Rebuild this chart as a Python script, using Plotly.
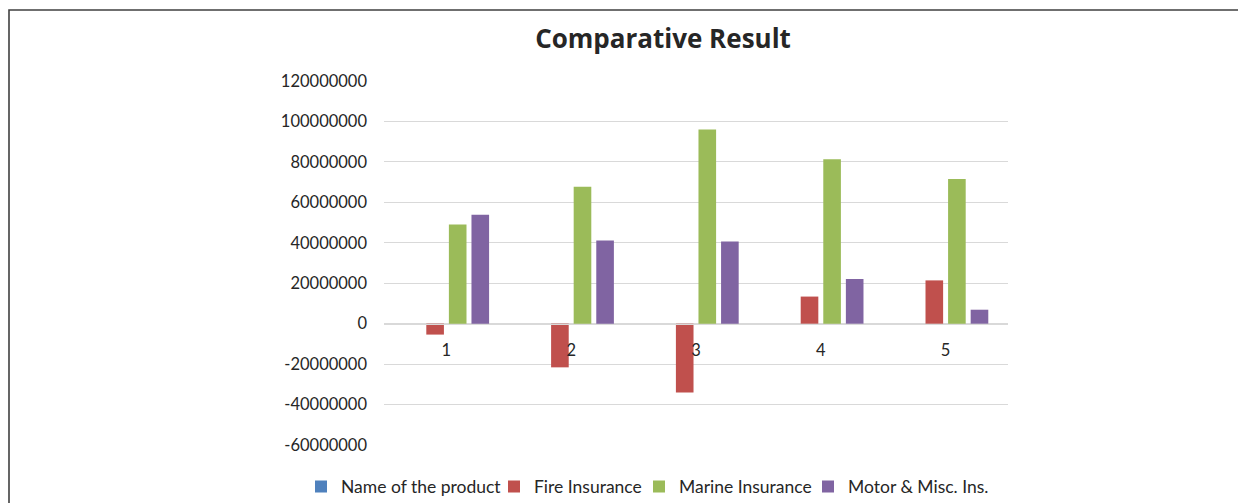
import plotly.graph_objects as go

categories = ["1", "2", "3", "4", "5"]
series_names = ["Name of the product", "Fire Insurance", "Marine Insurance", "Motor & Misc. Ins."]
name_of_product = [0, 0, 0, 0, 0]
fire_insurance = [-5400000, -21600000, -34000000, 13400000, 21400000]
marine_insurance = [49000000, 67700000, 96000000, 81300000, 71600000]
motor_misc = [53800000, 41100000, 40600000, 22100000, 6900000]
y_ticks = [-60000000, -40000000, -20000000, 0, 20000000, 40000000, 60000000, 80000000, 100000000, 120000000]
colors = ["#4F81BD", "#C0504D", "#9BBB59", "#8064A2"]
legend_widths = [148, 100, 124, 145]

# page is rendered with the browser's default 8px body margin
OFF = 8
W, H = 1246 - OFF, 503 - OFF
L, R, T, B = 384 - OFF, 1008 - OFF, 81 - OFF, 445 - OFF
pw, ph = R - L, B - T


def px_x(page_x):
    return (page_x - OFF - L) / pw


def px_y(page_y):
    return (B - (page_y - OFF)) / ph


fig = go.Figure()
for name, vals, col, lw in zip(series_names,
                               [name_of_product, fire_insurance, marine_insurance, motor_misc],
                               colors, legend_widths):
    fig.add_trace(go.Bar(x=categories, y=vals, name=name, marker_color=col,
                         marker_line_width=0, legendwidth=lw))

font_family = "Lato, 'Open Sans', sans-serif"
ymin, ymax = y_ticks[0], y_ticks[-1]
zero_frac = (0 - ymin) / (ymax - ymin)

fig.update_layout(
    width=W, height=H,
    margin=dict(l=L, r=W - R, t=T, b=H - B, pad=0, autoexpand=False),
    paper_bgcolor="white", plot_bgcolor="white",
    barmode="group", bargap=0.276, bargroupgap=0.22,
    font=dict(family=font_family, size=16.5, color="#262626"),
    title=dict(text="Comparative Result", x=(663 - OFF) / W, xanchor="center",
               y=1 - (39 - OFF) / H, yanchor="middle", yref="container",
               font=dict(family="'Open Sans', sans-serif", size=26, color="#262626", weight="bold")),
    xaxis=dict(type="category", anchor="free", position=zero_frac, automargin=False,
               showgrid=False, showline=True, linecolor="#D9D9D9", linewidth=1.3,
               ticks="", ticklabelstandoff=11, tickfont=dict(size=16.5)),
    yaxis=dict(range=[ymin, ymax], tickvals=y_ticks, ticktext=[str(v) for v in y_ticks],
               automargin=False,
               showgrid=True, gridcolor="#D9D9D9", gridwidth=1.3, zeroline=False,
               showline=False, ticks="", ticklabelstandoff=16, tickfont=dict(size=16.5)),
    legend=dict(orientation="h", x=px_x(301), xanchor="left", xref="paper",
                y=px_y(486.5), yanchor="middle", yref="paper",
                font=dict(size=17.5), itemwidth=30, traceorder="normal",
                borderwidth=0, bgcolor="rgba(0,0,0,0)"),
    showlegend=True,
)

# chart border (outer frame)
fig.add_shape(type="rect", xref="paper", yref="paper",
              x0=px_x(9), x1=px_x(1246 + 60),
              y0=px_y(503 + 60), y1=px_y(10),
              line=dict(color="#404040", width=1.6), fillcolor="rgba(0,0,0,0)", layer="above")

fig.write_html("out.html")
